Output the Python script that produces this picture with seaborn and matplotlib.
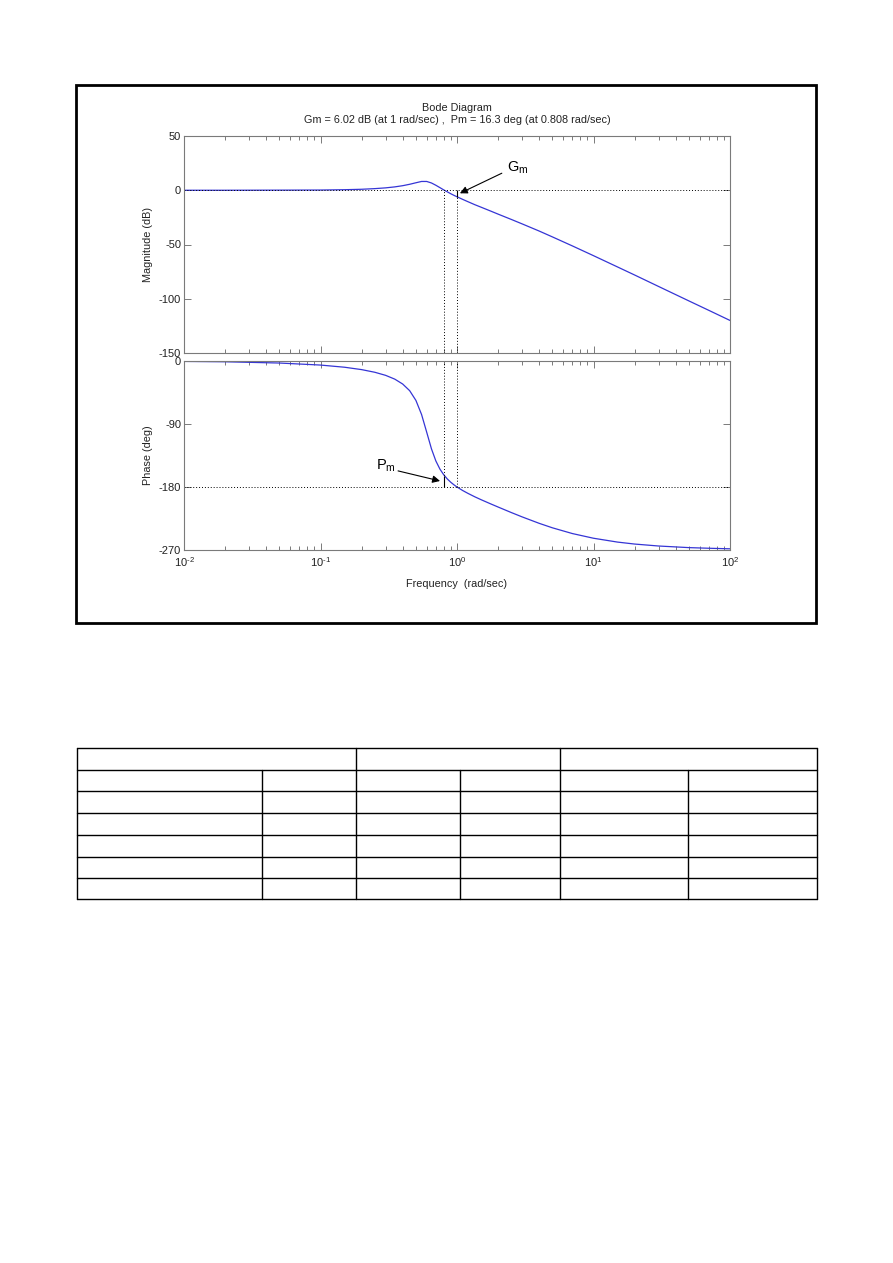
import numpy as np
import pandas as pd
import matplotlib
matplotlib.use("Agg")
import matplotlib.pyplot as plt
import seaborn as sns
from matplotlib.patches import Rectangle
from matplotlib.lines import Line2D
from matplotlib.ticker import LogLocator, NullFormatter, FixedLocator, FixedFormatter

# ---------------- data ----------------
freq = [0.01, 0.02, 0.05, 0.1, 0.15, 0.2, 0.25, 0.3, 0.35, 0.4, 0.45, 0.5, 0.55, 0.6,
        0.65, 0.7, 0.75, 0.8, 0.85, 0.9, 0.95, 1.0, 1.1, 1.2, 1.35, 1.5, 1.75, 2, 2.5,
        3, 4, 5, 7, 10, 15, 20, 30, 50, 70, 100]
magnitude_db = [0.0, 0.0, 0.1, 0.2, 0.5, 0.9, 1.5, 2.2, 3.1, 4.2, 5.5, 6.9, 8.1, 8.1,
                6.7, 4.6, 2.4, 0.3, -1.5, -3.2, -4.7, -6.0, -8.4, -10.5, -13.3, -15.6,
                -19.0, -22.0, -26.9, -31.0, -37.6, -43.0, -51.3, -60.3, -70.7, -78.1,
                -88.7, -102.0, -110.7, -120.0]
phase_deg = [-0.6, -1.1, -2.9, -5.8, -8.9, -12.3, -16.1, -20.5, -25.9, -32.9, -42.4,
             -56.3, -76.4, -101.8, -125.5, -142.8, -154.5, -162.6, -168.6, -173.2,
             -176.9, -180.0, -185.0, -189.0, -194.0, -198.1, -203.8, -208.6, -216.5,
             -222.7, -231.9, -238.3, -246.5, -253.2, -258.7, -261.5, -264.3, -266.6,
             -267.5, -268.3]

gm_db, gm_freq = 6.02, 1.0
pm_deg, pm_freq = 16.3, 0.808

mag_ticks = [50, 0, -50, -100, -150]
phase_ticks = [0, -90, -180, -270]
x_ticks = [0.01, 0.1, 1, 10, 100]
x_ticklabels = [r'$10^{\text{-}2}$', r'$10^{\text{-}1}$', r'$10^{0}$', r'$10^{1}$', r'$10^{2}$']

df = pd.DataFrame({'freq': freq, 'mag': magnitude_db, 'phase': phase_deg})

# ---------------- style ----------------
sns.set_style("ticks")
plt.rcParams['font.family'] = ['Liberation Sans', 'DejaVu Sans']
plt.rcParams['axes.unicode_minus'] = False
plt.rcParams['mathtext.fontset'] = 'custom'
plt.rcParams['mathtext.rm'] = 'Liberation Sans'
plt.rcParams['mathtext.it'] = 'Liberation Sans'
plt.rcParams['mathtext.bf'] = 'Liberation Sans'

W, H = 893, 1263
fig = plt.figure(figsize=(W / 100, H / 100), dpi=100)
fig.patch.set_facecolor('white')


def fx(p):
    return p / W


def fy(p):
    return 1 - p / H


AX_L, AX_R = 184, 730
ax1 = fig.add_axes([fx(AX_L), fy(353), (AX_R - AX_L) / W, (353 - 136) / H])
ax2 = fig.add_axes([fx(AX_L), fy(550), (AX_R - AX_L) / W, (550 - 361) / H])

line_color = '#3535d5'
sns.lineplot(data=df, x='freq', y='mag', ax=ax1, color=line_color, lw=0.9,
             estimator=None, sort=False)
sns.lineplot(data=df, x='freq', y='phase', ax=ax2, color=line_color, lw=0.9,
             estimator=None, sort=False)

spine_col = '#7a7a7a'
text_col = '#222222'
for ax in (ax1, ax2):
    ax.set_xscale('log')
    ax.set_xlim(0.01, 100)
    ax.set_facecolor('white')
    for sp in ax.spines.values():
        sp.set_color(spine_col)
        sp.set_linewidth(0.8)
    ax.xaxis.set_major_locator(FixedLocator(x_ticks))
    ax.xaxis.set_minor_locator(LogLocator(base=10, subs=np.arange(2, 10), numticks=20))
    ax.xaxis.set_minor_formatter(NullFormatter())
    ax.tick_params(which='both', direction='in', top=True, right=True,
                   color=spine_col, labelcolor=text_col, labelsize=8, width=0.7)
    ax.tick_params(which='major', length=5)
    ax.tick_params(which='minor', length=3)
    ax.tick_params(axis='y', pad=2)
    ax.tick_params(axis='x', pad=4)
    ax.set_xlabel('')
    ax.set_ylabel('')

ax1.set_ylim(-150, 50)
ax1.yaxis.set_major_locator(FixedLocator(mag_ticks))
ax1.xaxis.set_major_formatter(NullFormatter())
ax2.set_ylim(-270, 0)
ax2.yaxis.set_major_locator(FixedLocator(phase_ticks))
ax2.xaxis.set_major_formatter(FixedFormatter(x_ticklabels))
for lab in ax2.get_xticklabels():
    lab.set_fontsize(8)

ax1.set_ylabel('Magnitude (dB)', fontsize=7.8, color=text_col)
ax1.yaxis.set_label_coords(-0.057, 0.5)
ax2.set_ylabel('Phase (deg)', fontsize=7.8, color=text_col)
ax2.yaxis.set_label_coords(-0.057, 0.5)
ax2.set_xlabel('Frequency  (rad/sec)', fontsize=7.8, color=text_col)
ax2.xaxis.set_label_coords(0.5, -0.155)
ax2.xaxis.label.set_va('top')

# margin reference lines
dot = dict(color='black', lw=0.7, ls=(0, (1, 2)))
ax1.axhline(0, **dot)
ax1.vlines([pm_freq, gm_freq], -150, 0, **dot)
ax2.axhline(-180, **dot)
ax2.vlines([pm_freq, gm_freq], -180, 0, **dot)
ax1.vlines(gm_freq, -gm_db, 0, color='black', lw=0.8)
ax2.vlines(pm_freq, -180, -180 + pm_deg, color='black', lw=0.8)

# annotations
arrow = dict(arrowstyle='-|>', color='black', lw=0.8, mutation_scale=11,
             shrinkA=0, shrinkB=0)
ax1.annotate('', xy=(1.05, -2.8), xytext=(2.13, 15.7), arrowprops=arrow)
ax1.text(2.32, 21, r'G$_{\mathrm{m}}$', fontsize=10.5, ha='left', va='center',
         color='black')
ax2.annotate('', xy=(0.751, -171.4), xytext=(0.37, -157.0), arrowprops=arrow)
ax2.text(0.357, -150, r'P$_{\mathrm{m}}$', fontsize=10.5, ha='right', va='center',
         color='black')

# title
fig.text(fx(457), fy(108), 'Bode Diagram', ha='center', va='center',
         fontsize=7.8, color=text_col)
fig.text(fx(457), fy(120),
         'Gm = 6.02 dB (at 1 rad/sec) ,  Pm = 16.3 deg (at 0.808 rad/sec)',
         ha='center', va='center', fontsize=7.8, color=text_col)

# outer frame
fig.add_artist(Rectangle((fx(76), fy(623)), (816 - 76) / W, (623 - 85) / H,
                         transform=fig.transFigure, fill=False, lw=2.0,
                         edgecolor='black'))

# empty table below the figure
rows_y = [748, 770, 791, 813, 835, 857, 878, 899]
TL, TR = 77, 817
for yy in rows_y:
    fig.add_artist(Line2D([fx(TL), fx(TR)], [fy(yy), fy(yy)],
                          transform=fig.transFigure, color='black', lw=1.0))
for xx in [TL, TR]:
    fig.add_artist(Line2D([fx(xx), fx(xx)], [fy(748), fy(899)],
                          transform=fig.transFigure, color='black', lw=1.0))
for xx in [356, 560]:
    fig.add_artist(Line2D([fx(xx), fx(xx)], [fy(748), fy(770)],
                          transform=fig.transFigure, color='black', lw=1.0))
for xx in [262, 356, 460, 560, 688]:
    fig.add_artist(Line2D([fx(xx), fx(xx)], [fy(770), fy(899)],
                          transform=fig.transFigure, color='black', lw=1.0))

fig.savefig('out.png', dpi=100)
